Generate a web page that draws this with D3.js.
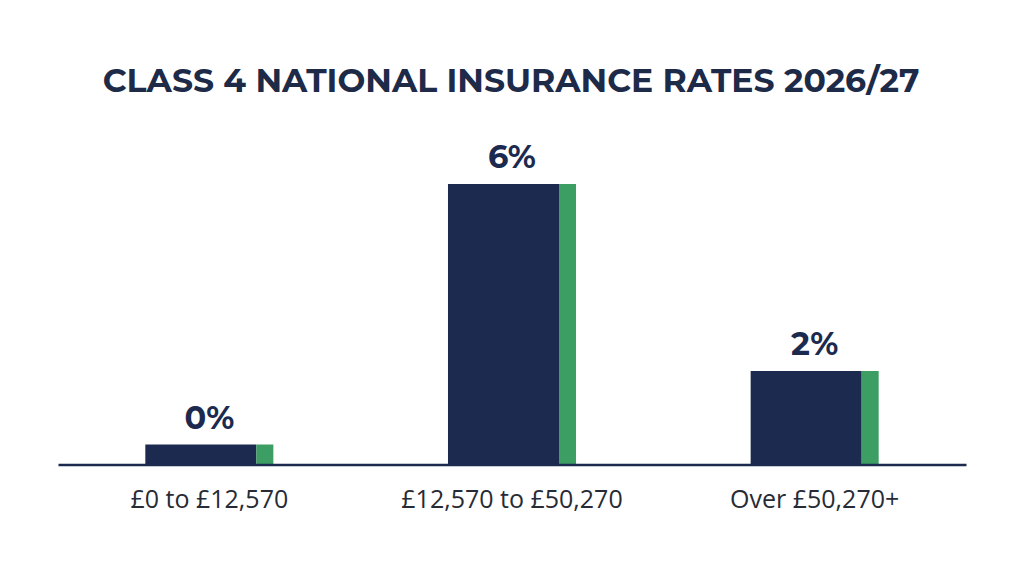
<!DOCTYPE html>
<html>
<head>
<meta charset="utf-8">
<script src="https://cdn.jsdelivr.net/npm/d3@7"></script>
<style>
  body { margin: 0; background: #ffffff; }
  svg { display: block; }
</style>
</head>
<body>
<div id="chart"></div>
<script>
// Data
var categories = ["£0 to £12,570", "£12,570 to £50,270", "Over £50,270+"];
var rates = [0, 6, 2];
var rateLabels = ["0%", "6%", "2%"];
var title = "CLASS 4 NATIONAL INSURANCE RATES 2026/27";

var width = 1024, height = 572;
var navy = "#1b2a4e", green = "#3c9e63";

var svg = d3.select("#chart").append("svg")
    .attr("width", width)
    .attr("height", height);

// Title
svg.append("text")
    .attr("x", 511)
    .attr("y", 92)
    .attr("text-anchor", "middle")
    .style("font-family", "Montserrat, Inter, 'Open Sans', sans-serif")
    .style("font-size", "33px")
    .style("font-weight", "700")
    .style("fill", "#1d2a48")
    .text(title);

var baseline = 464.5;

var x = d3.scaleBand()
    .domain(categories)
    .range([58, 966])
    .padding(0);

var y = d3.scaleLinear()
    .domain([0, 6])
    .range([baseline, 184]);

// the 0% bar is still drawn as a thin block
var minBarPx = 20;
function barTop(v) { return Math.min(y(v), baseline - minBarPx); }

var barW = x.bandwidth() * 0.423;
var greenW = 17;

var bars = svg.selectAll(".bar")
    .data(rates)
    .enter().append("g")
    .attr("class", "bar");

bars.append("rect")
    .attr("x", function(d, i) { return x(categories[i]) + x.bandwidth() / 2 - barW / 2; })
    .attr("y", function(d) { return barTop(d); })
    .attr("width", barW - greenW)
    .attr("height", function(d) { return baseline - barTop(d); })
    .style("fill", navy);

bars.append("rect")
    .attr("x", function(d, i) { return x(categories[i]) + x.bandwidth() / 2 + barW / 2 - greenW; })
    .attr("y", function(d) { return barTop(d); })
    .attr("width", greenW)
    .attr("height", function(d) { return baseline - barTop(d); })
    .style("fill", green);

bars.append("text")
    .attr("x", function(d, i) { return x(categories[i]) + x.bandwidth() / 2; })
    .attr("y", function(d) { return barTop(d) - 16; })
    .attr("text-anchor", "middle")
    .style("font-family", "Montserrat, Inter, 'Open Sans', sans-serif")
    .style("font-size", "32px")
    .style("font-weight", "700")
    .style("fill", navy)
    .text(function(d, i) { return rateLabels[i]; });

// Axis
var axis = svg.append("g")
    .attr("transform", "translate(0," + baseline + ")")
    .call(d3.axisBottom(x).tickSize(0).tickPadding(26));

axis.select(".domain")
    .attr("stroke", navy)
    .attr("stroke-width", 2.5);

axis.selectAll("text")
    .style("font-family", "'Open Sans', 'Noto Sans', sans-serif")
    .style("font-size", "25px")
    .style("fill", "#262b36");
</script>
</body>
</html>
